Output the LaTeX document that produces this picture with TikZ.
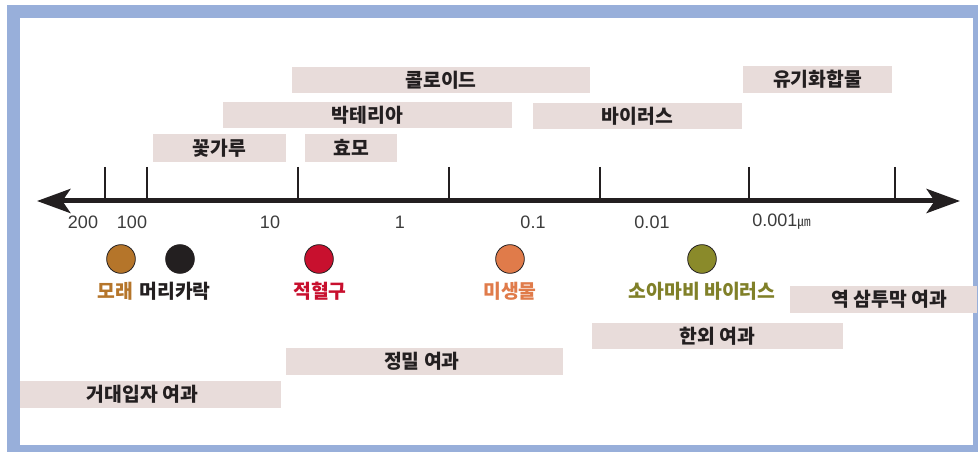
\documentclass[tikz,border=0pt]{standalone}
\usepackage{fontspec}
\setmainfont{Liberation Sans}
\newfontfamily\kr{Noto Sans CJK KR}
\usetikzlibrary{arrows.meta,fit}
\definecolor{frameblue}{RGB}{152,175,218}
\definecolor{barpink}{RGB}{232,220,218}
\definecolor{txt}{RGB}{35,31,32}
\definecolor{numgray}{RGB}{60,60,60}
\definecolor{sandc}{RGB}{181,117,42}
\definecolor{hairc}{RGB}{35,31,32}
\definecolor{rbcc}{RGB}{200,16,46}
\definecolor{microc}{RGB}{224,123,74}
\definecolor{polioc}{RGB}{138,138,42}
\definecolor{poliot}{RGB}{128,128,40}
\tikzset{
  bar/.style={fill=barpink, draw=none, inner sep=0pt},
  num/.style={inner sep=0pt, text=numgray, font=\fontsize{13.5}{14}\selectfont},
  dot/.style={circle, draw=txt, line width=0.6pt, minimum size=21.5pt, inner sep=0pt},
  lbl/.style={inner sep=0pt, text=txt, font=\kr\bfseries\fontsize{14.5}{15}\selectfont},
  tick/.style={line width=1.5pt, draw=txt},
}
\begin{document}
\begin{tikzpicture}[x=0.75pt,y=-0.75pt]
\useasboundingbox (0,0) rectangle (978,452);
\fill[white] (0,0) rectangle (978,452);
\fill[frameblue] (7,5) rectangle (978,452);
\fill[white] (20,18) rectangle (973,445);

% upper bars
\node[bar, fit={(292,67) (590,93)}] (colloid) {};
\node[lbl] at (colloid.center) {콜로이드};
\node[bar, fit={(223,102) (512,128)}] (bact) {};
\node[lbl] at (bact.center) {박테리아};
\node[bar, fit={(153,134) (286,162)}] (pollen) {};
\node[lbl] at (pollen.center) {꽃가루};
\node[bar, fit={(305,134) (397,162)}] (yeast) {};
\node[lbl] at (yeast.center) {효모};
\node[bar, fit={(533,103) (742,129)}] (virus) {};
\node[lbl] at (virus.center) {바이러스};
\node[bar, fit={(743,66) (892,93)}] (organic) {};
\node[lbl] at (organic.center) {유기화합물};

% axis
\coordinate (axL) at (37,201);
\coordinate (axR) at (960,201);
\foreach \x in {105,147,298,449,600,749,895}
  \draw[tick] (\x,167) -- (\x,201);
\draw[line width=3.75pt, draw=txt,
  {Stealth[length=25pt,width=18pt,inset=6pt]}-{Stealth[length=25pt,width=18pt,inset=6pt]}]
  (axL) -- (axR);

% numbers
\node[num] (n200) at (83,222) {200};
\node[num] (n100) at (132,222) {100};
\node[num] (n10) at (270,222) {10};
\node[num] (n1) at (400,222) {1};
\node[num] (n01) at (533,222) {0.1};
\node[num] (n001) at (652,222) {0.01};
\node[num, anchor=west] (n0001) at (752,222) {0.001{\kr\fontsize{10}{11}\selectfont ㎛}};

% dots
\node[dot, fill=sandc] (sand) at (121,259) {};
\node[dot, fill=hairc] (hair) at (180,259) {};
\node[dot, fill=rbcc] (rbc) at (319,259) {};
\node[dot, fill=microc] (micro) at (510,259) {};
\node[dot, fill=polioc] (polio) at (702,259) {};

\node[lbl, text=sandc] (sandl) at (115,291) {모래};
\node[lbl, text=txt] (hairl) at (175,291) {머리카락};
\node[lbl, text=rbcc] (rbcl) at (320,291) {적혈구};
\node[lbl, text=microc] (microl) at (510,291) {미생물};
\node[lbl, text=poliot] (poliol) at (702,291) {소아마비 바이러스};

% lower bars
\node[bar, fit={(790,286) (977,313)}] (ro) {};
\node[lbl] at ([xshift=4.5pt]ro.center) {역 삼투막 여과};
\node[bar, fit={(592,323) (843,349)}] (uf) {};
\node[lbl] at (uf.center) {한외 여과};
\node[bar, fit={(286,348) (563,375)}] (mf) {};
\node[lbl] at ([xshift=-2pt]mf.center) {정밀 여과};
\node[bar, fit={(20,381) (281,408)}] (pf) {};
\node[lbl] at ([xshift=-6pt]pf.center) {거대입자 여과};
\end{tikzpicture}
\end{document}
